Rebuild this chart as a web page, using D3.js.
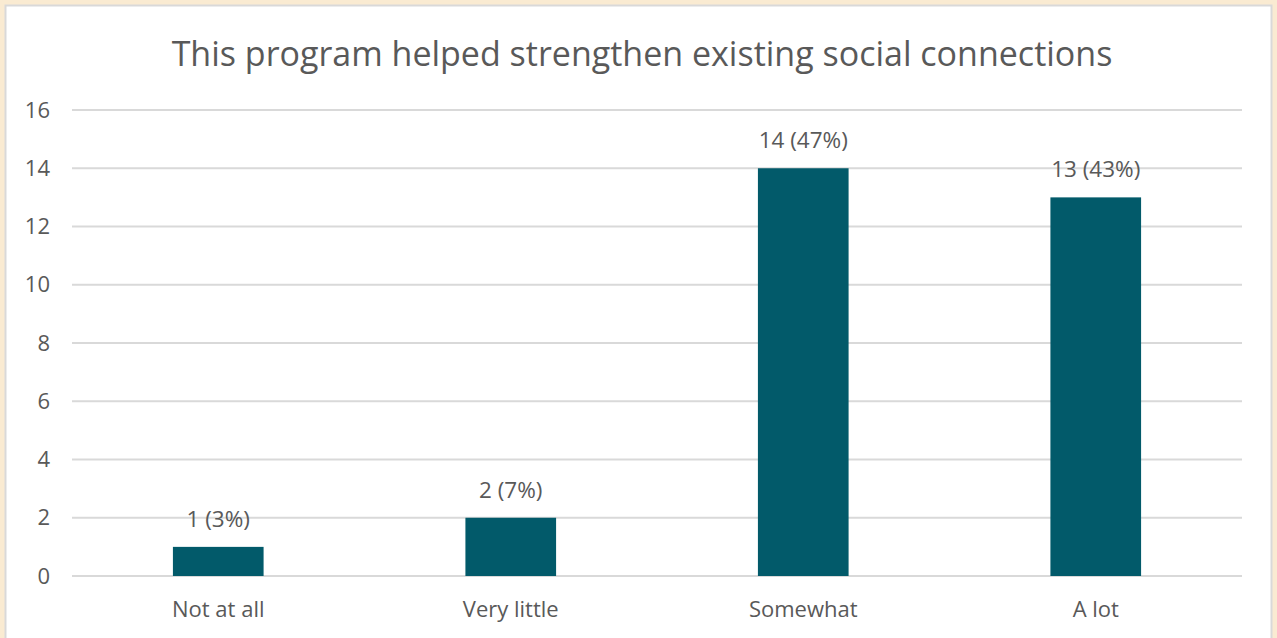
<!DOCTYPE html>
<html>
<head>
<meta charset="utf-8">
<script src="https://cdn.jsdelivr.net/npm/d3@7"></script>
<style>
  html, body { margin: 0; padding: 0; background: #FAEBD2; }
  svg { display: block; }
</style>
</head>
<body>
<svg id="chart" width="1277" height="638"></svg>
<script>
// Datos del gráfico
const categories = ['Not at all', 'Very little', 'Somewhat', 'A lot']
const counts = [1, 2, 14, 13]
const labels = ['1 (3%)', '2 (7%)', '14 (47%)', '13 (43%)']
const yTicks = [0, 2, 4, 6, 8, 10, 12, 14, 16]
const title = 'This program helped strengthen existing social connections'

const width = 1277
const height = 638
const margin = { top: 110, right: 35, bottom: 62, left: 72 }
const font = "'Open Sans', sans-serif"
const textColor = '#595959'

const svg = d3.select('#chart')

// Panel blanco con borde gris
svg.append('rect')
    .attr('x', 5.5).attr('y', 5.5)
    .attr('width', 1266).attr('height', 640)
    .attr('fill', '#ffffff')
    .attr('stroke', '#d9d9d9')
    .attr('stroke-width', 2)

const xScale = d3.scaleBand()
    .domain(categories)
    .range([margin.left, width - margin.right])

const yScale = d3.scaleLinear()
    .domain([0, 16])
    .range([height - margin.bottom, margin.top])

// Líneas de la cuadrícula
svg.append('g')
    .selectAll('line')
    .data(yTicks)
    .enter().append('line')
    .attr('x1', margin.left)
    .attr('x2', width - margin.right)
    .attr('y1', d => yScale(d))
    .attr('y2', d => yScale(d))
    .attr('stroke', '#d9d9d9')
    .attr('stroke-width', 2)

// Eje Y
const yAxis = svg.append('g')
    .attr('transform', `translate(${margin.left}, 0)`)
    .call(d3.axisLeft(yScale).tickValues(yTicks).tickSize(0).tickPadding(22))
yAxis.select('.domain').remove()
yAxis.selectAll('text')
    .attr('font-family', font)
    .attr('font-size', 22)
    .attr('fill', textColor)

// Eje X
const xAxis = svg.append('g')
    .attr('transform', `translate(0, ${height - margin.bottom})`)
    .call(d3.axisBottom(xScale).tickSize(0).tickPadding(25))
xAxis.select('.domain').remove()
xAxis.selectAll('text')
    .attr('font-family', font)
    .attr('font-size', 22)
    .attr('fill', textColor)

// Barras
const barW = xScale.bandwidth() * 0.31
svg.selectAll('rect.bar')
    .data(counts)
    .enter().append('rect')
    .attr('class', 'bar')
    .attr('x', (d, i) => xScale(categories[i]) + (xScale.bandwidth() - barW) / 2)
    .attr('y', d => yScale(d))
    .attr('width', barW)
    .attr('height', d => yScale(0) - yScale(d))
    .attr('fill', '#025A6A')

// Etiquetas de valor
svg.selectAll('text.value')
    .data(counts)
    .enter().append('text')
    .attr('class', 'value')
    .attr('x', (d, i) => xScale(categories[i]) + xScale.bandwidth() / 2)
    .attr('y', d => yScale(d) - 20)
    .attr('text-anchor', 'middle')
    .attr('font-family', font)
    .attr('font-size', 22.5)
    .attr('fill', textColor)
    .text((d, i) => labels[i])

// Título
svg.append('text')
    .attr('x', 642)
    .attr('y', 66)
    .attr('text-anchor', 'middle')
    .attr('font-family', font)
    .attr('font-size', 34)
    .attr('fill', textColor)
    .text(title)
</script>
</body>
</html>
